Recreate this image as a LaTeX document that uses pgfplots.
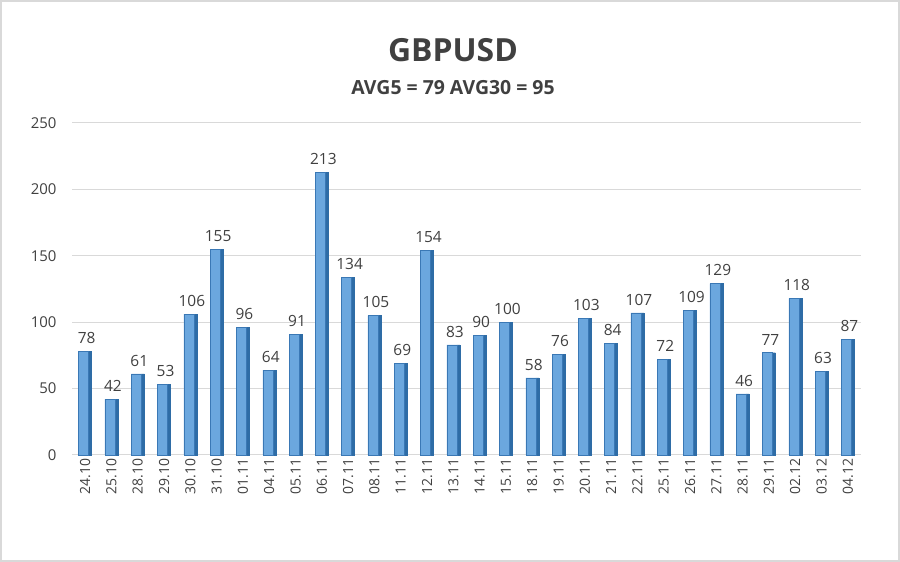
\documentclass[border=0pt]{standalone}
\usepackage{pgfplots}
\pgfplotsset{compat=1.18}
\usepackage{fontspec}
\setmainfont{Open Sans}
\definecolor{txt}{HTML}{404040}
\definecolor{barF}{HTML}{6BA7DE}
\definecolor{barS}{HTML}{2E6CA6}
\definecolor{barE}{HTML}{3A78B5}
\definecolor{gridc}{HTML}{D9D9D9}
\pgfplotstableread{
x y
0 78
1 42
2 61
3 53
4 106
5 155
6 96
7 64
8 91
9 213
10 134
11 105
12 69
13 154
14 83
15 90
16 100
17 58
18 76
19 103
20 84
21 107
22 72
23 109
24 129
25 46
26 77
27 118
28 63
29 87
}\datatab
\begin{document}
\begin{tikzpicture}[x=1bp,y=1bp]
\fill[white] (0,0) rectangle (900,562);
\draw[gridc, line width=2bp] (1,1) rectangle (899,561);
\node[font=\fontsize{32}{36}\selectfont\bfseries, text=txt] at (453,512) {GBPUSD};
\node[font=\fontsize{19.5}{23}\selectfont\bfseries, text=txt] at (453,474) {AVG5 = 79 AVG30 = 95};
\begin{axis}[
  at={(72bp,107bp)}, anchor=south west,
  scale only axis, width=789bp, height=332bp,
  xmin=-0.5, xmax=29.5, ymin=0, ymax=250,
  ytick={0,50,100,150,200,250},
  xtick={0,...,29},
  xticklabels={24.10,25.10,28.10,29.10,30.10,31.10,01.11,04.11,05.11,06.11,07.11,08.11,11.11,12.11,13.11,14.11,15.11,18.11,19.11,20.11,21.11,22.11,25.11,26.11,27.11,28.11,29.11,02.12,03.12,04.12},
  x tick label style={rotate=90, anchor=east, font=\fontsize{14}{16}\selectfont, text=txt},
  y tick label style={font=\fontsize{15}{17}\selectfont, text=txt, xshift=-12bp},
  /pgf/number format/assume math mode=true,
  axis line style={draw=none},
  major tick length=0pt,
  xmajorgrids=false, ymajorgrids=true, grid style={draw=gridc, line width=1bp},
  clip=false,
]
\addplot[ybar, bar width=3bp, bar shift=5bp, draw=barS, fill=barS, line width=0.4bp] table[x=x,y=y] {\datatab};
\addplot[ybar, bar width=10bp, bar shift=-1.5bp, draw=barE, fill=barF, line width=0.5bp,
  nodes near coords,
  every node near coord/.append style={font=\fontsize{15.5}{18}\selectfont, text=txt, yshift=4bp, xshift=1.5bp}] table[x=x,y=y] {\datatab};
\end{axis}
\end{tikzpicture}
\end{document}
